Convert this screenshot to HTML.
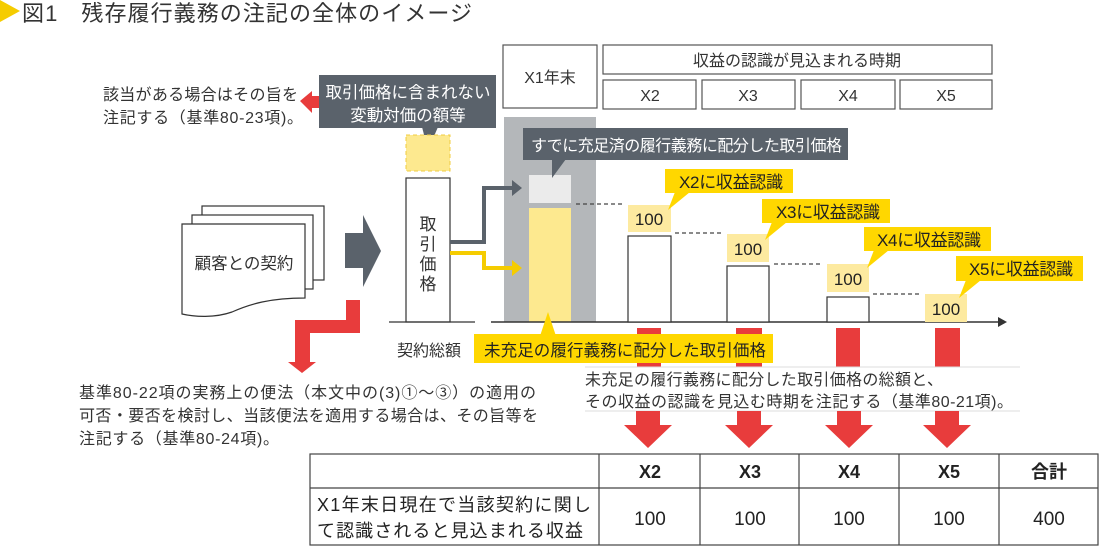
<!DOCTYPE html>
<html><head><meta charset="utf-8"><style>
html,body{margin:0;padding:0;background:#fff;}
svg{display:block;font-family:"Liberation Sans","Noto Sans CJK JP",sans-serif;}
</style></head><body>
<svg width="1100" height="546" viewBox="0 0 1100 546" xmlns="http://www.w3.org/2000/svg">
<!-- title -->
<polygon points="0,0 20,11 0,22" fill="#f5cc00"/>
<text x="22" y="21" font-size="22" fill="#333" textLength="450">図1　残存履行義務の注記の全体のイメージ</text>

<!-- header boxes -->
<g fill="#fff" stroke="#555" stroke-width="1.2">
<rect x="503" y="45" width="94" height="63"/>
<rect x="603" y="45" width="389" height="29"/>
<rect x="603" y="80" width="93" height="29"/>
<rect x="702" y="80" width="93" height="29"/>
<rect x="801" y="80" width="94" height="29"/>
<rect x="900" y="80" width="92" height="29"/>
</g>
<g font-size="16" fill="#333" text-anchor="middle">
<text x="550" y="83">X1年末</text>
<text x="797" y="66">収益の認識が見込まれる時期</text>
<text x="650" y="101">X2</text><text x="748" y="101">X3</text><text x="848" y="101">X4</text><text x="946" y="101">X5</text>
</g>

<!-- left top text and red arrow -->
<g font-size="16" fill="#333">
<text x="103" y="100" textLength="195">該当がある場合はその旨を</text>
<text x="103" y="123" textLength="200">注記する（基準80-23項)。</text>
</g>
<polygon points="300,101 312,91 312,96 328,96 328,108 312,108 312,113" fill="#e83c3c"/>

<!-- gray callout -->
<rect x="319" y="75" width="177" height="53" fill="#5a626b"/>
<polygon points="422,127 438,127 428,150" fill="#5a626b"/>
<g font-size="16.5" fill="#fff" text-anchor="middle">
<text x="408" y="98">取引価格に含まれない</text>
<text x="408" y="121">変動対価の額等</text>
</g>
<rect x="406" y="135" width="44" height="36" fill="#fde98f" stroke="#f0cc40" stroke-dasharray="4,3"/>

<!-- 取引価格 box -->
<rect x="406" y="178" width="44" height="144" fill="#fff" stroke="#333" stroke-width="1.2"/>
<g font-size="17" fill="#333" text-anchor="middle">
<text x="428" y="230">取</text><text x="428" y="250">引</text><text x="428" y="270">価</text><text x="428" y="290">格</text>
</g>
<line x1="389" y1="322" x2="475" y2="322" stroke="#333" stroke-width="1.2"/>
<text x="397" y="356" font-size="16" fill="#333">契約総額</text>

<!-- doc stack -->
<g fill="#fff" stroke="#333" stroke-width="1.2">
<rect x="202" y="206" width="122" height="74"/>
<rect x="192" y="215" width="121" height="74"/>
<path d="M182,224 H305 V298 C270,298 250,304 232,312 C215,318 195,317 182,314 Z"/>
</g>
<text x="244" y="269" font-size="16.5" fill="#333" text-anchor="middle">顧客との契約</text>

<!-- big gray arrow -->
<polygon points="345,233 363,233 363,215 381,251 363,287 363,268 345,268" fill="#5a626b"/>

<!-- red zigzag -->
<polygon points="346,300 360,300 360,333 310,333 310,362 316,362 302,373 288,362 295,362 295,320 346,320" fill="#e83c3c"/>

<!-- gray column -->
<rect x="504" y="117" width="92" height="205" fill="#b4b7ba"/>
<rect x="529" y="175" width="42" height="28" fill="#ebebeb"/>
<rect x="529" y="208" width="42" height="114" fill="#fde98f"/>

<!-- connectors -->
<polyline points="450,242 484,242 484,188 514,188" fill="none" stroke="#5a626b" stroke-width="4"/>
<polygon points="512,180 522,188 512,196" fill="#5a626b"/>
<polyline points="450,253 484,253 484,268 514,268" fill="none" stroke="#f5cc00" stroke-width="4"/>
<polygon points="512,260 522,268 512,276" fill="#f5cc00"/>

<!-- callout すでに -->
<rect x="523" y="128" width="325" height="32" fill="#5a626b"/>
<polygon points="552,159 566,159 552,178" fill="#5a626b"/>
<text x="531" y="151" font-size="16" fill="#fff" textLength="311">すでに充足済の履行義務に配分した取引価格</text>

<!-- axis -->
<line x1="491" y1="322" x2="1000" y2="322" stroke="#333" stroke-width="1.5"/>
<polygon points="998,317 1007,322 998,327" fill="#333"/>

<!-- dashed lines -->
<g stroke="#444" stroke-dasharray="4,3" stroke-width="1.2">
<line x1="576" y1="204" x2="624" y2="204"/>
<line x1="675" y1="233" x2="723" y2="233"/>
<line x1="774" y1="264" x2="823" y2="264"/>
<line x1="873" y1="294" x2="922" y2="294"/>
</g>

<!-- bars -->
<g fill="#fff" stroke="#333" stroke-width="1.2">
<rect x="628" y="236" width="43" height="86"/>
<rect x="727" y="266" width="42" height="56"/>
<rect x="827" y="297" width="42" height="25"/>
</g>
<g fill="#fdeaa0">
<rect x="628" y="205" width="43" height="27"/>
<rect x="727" y="234" width="42" height="28"/>
<rect x="827" y="264" width="42" height="28"/>
<rect x="925" y="294" width="42" height="28"/>
</g>
<g font-size="17" fill="#222" text-anchor="middle">
<text x="649" y="225">100</text><text x="748" y="255">100</text><text x="848" y="285">100</text><text x="946" y="315">100</text>
</g>

<!-- yellow callouts -->
<g fill="#ffd700">
<rect x="665" y="169" width="128" height="24"/><polygon points="675,192 690,192 668,210"/>
<rect x="762" y="199" width="128" height="24"/><polygon points="772,222 787,222 765,240"/>
<rect x="864" y="227" width="127" height="24"/><polygon points="874,250 889,250 867,268"/>
<rect x="956" y="256" width="127" height="25"/><polygon points="966,280 981,280 959,298"/>
</g>
<g font-size="17" fill="#222" text-anchor="middle">
<text x="731" y="188" textLength="104">X2に収益認識</text>
<text x="828" y="218" textLength="104">X3に収益認識</text>
<text x="929" y="246" textLength="104">X4に収益認識</text>
<text x="1021" y="275" textLength="104">X5に収益認識</text>
</g>

<!-- red rects under axis -->
<g fill="#e83c3c">
<rect x="637" y="328" width="24" height="39"/>
<rect x="736" y="328" width="26" height="39"/>
<rect x="836" y="328" width="24" height="39"/>
<rect x="935" y="328" width="25" height="39"/>
</g>

<!-- yellow label bottom -->
<rect x="474" y="334" width="299" height="29" fill="#ffd700"/>
<polygon points="540,336 556,336 548,312" fill="#ffd700"/>
<text x="484" y="356" font-size="16.5" fill="#222" textLength="282">未充足の履行義務に配分した取引価格</text>

<!-- note -->
<rect x="585" y="367" width="435" height="44" fill="#fff"/>
<line x1="585" y1="367" x2="1020" y2="367" stroke="#ddd"/>
<line x1="585" y1="411" x2="1020" y2="411" stroke="#ddd"/>
<g font-size="16" fill="#333">
<text x="585" y="385" textLength="358">未充足の履行義務に配分した取引価格の総額と、</text>
<text x="585" y="407" textLength="428">その収益の認識を見込む時期を注記する（基準80-21項)。</text>
</g>

<!-- bottom-left text -->
<g font-size="16" fill="#333">
<text x="79" y="398" textLength="457">基準80-22項の実務上の便法（本文中の(3)①～③）の適用の</text>
<text x="79" y="421" textLength="459">可否・要否を検討し、当該便法を適用する場合は、その旨等を</text>
<text x="79" y="444" textLength="200">注記する（基準80-24項)。</text>
</g>

<!-- red down arrows -->
<g fill="#e83c3c">
<polygon points="636,411 660,411 660,425 672,425 648,448 624,425 636,425"/>
<polygon points="737,411 761,411 761,425 773,425 749,448 725,425 737,425"/>
<polygon points="837,411 861,411 861,425 873,425 849,448 825,425 837,425"/>
<polygon points="935,411 959,411 959,425 971,425 947,448 923,425 935,425"/>
</g>

<!-- table -->
<g fill="none" stroke="#444" stroke-width="1.2">
<rect x="310" y="454" width="788" height="91"/>
<line x1="310" y1="488" x2="1098" y2="488"/>
<line x1="599" y1="454" x2="599" y2="545"/>
<line x1="700" y1="454" x2="700" y2="545"/>
<line x1="799" y1="454" x2="799" y2="545"/>
<line x1="899" y1="454" x2="899" y2="545"/>
<line x1="999" y1="454" x2="999" y2="545"/>
</g>
<g font-size="18" fill="#222" font-weight="bold" text-anchor="middle">
<text x="650" y="478">X2</text><text x="750" y="478">X3</text><text x="849" y="478">X4</text><text x="949" y="478">X5</text><text x="1049" y="478">合計</text>
</g>
<g font-size="18" fill="#222">
<text x="317" y="511" textLength="274">X1年末日現在で当該契約に関し</text>
<text x="317" y="537" textLength="266">て認識されると見込まれる収益</text>
</g>
<g font-size="19" fill="#222" text-anchor="middle">
<text x="650" y="525">100</text><text x="750" y="525">100</text><text x="849" y="525">100</text><text x="949" y="525">100</text><text x="1049" y="525">400</text>
</g>
</svg>
</body></html>
